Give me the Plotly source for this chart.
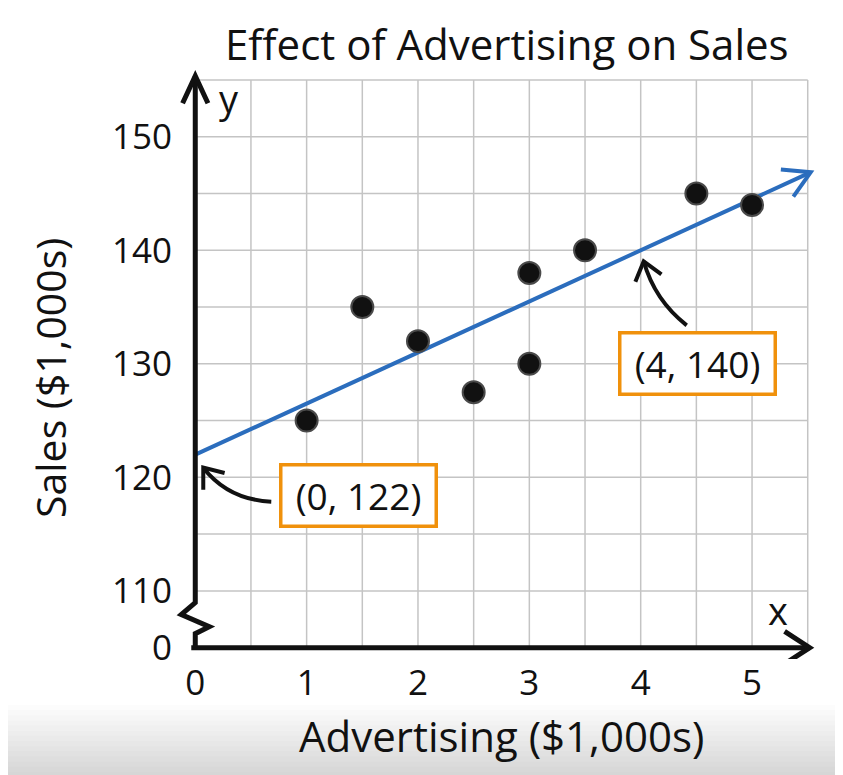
import math

import plotly.graph_objects as go

# ---- data ----
ad_spend = [1, 1.5, 2, 2.5, 3, 3, 3.5, 4.5, 5]
sales = [125, 135, 132, 127.5, 138, 130, 140, 145, 144]

fit_x = [0, 5.5]
fit_y = [122, 146.75]

callout_x = [0, 4]
callout_y = [122, 140]

x_ticks = [0, 1, 2, 3, 4, 5]
y_ticks = [105, 110, 120, 130, 140, 150]
y_ticktext = ["0", "110", "120", "130", "140", "150"]

grid_x = [0.5 * i for i in range(1, 12)]      # 0.5 .. 5.5
grid_y = [110 + 5 * i for i in range(10)]      # 110 .. 155

# ---- layout geometry (positions below are in window pixels) ----
# the page body has an 8px margin, so the figure sits 8px right/down in the window
W, H = 843, 775
BODY = 8
FIG_W, FIG_H = W - BODY, H - BODY
M = dict(l=173 - BODY, r=FIG_W - (830 - BODY), t=63 - BODY, b=FIG_H - (659 - BODY))
X_RANGE = [-0.2, 5.7]
Y_RANGE = [104, 156.5]
PLOT_W = FIG_W - M["l"] - M["r"]
PLOT_H = FIG_H - M["t"] - M["b"]
PXX = PLOT_W / (X_RANGE[1] - X_RANGE[0])
PXY = PLOT_H / (Y_RANGE[1] - Y_RANGE[0])

FONT = "Open Sans"
INK = "#111111"
BLUE = "#2b6dbd"
ORANGE = "#f0910c"
GRID = "#c4c4c4"


def off(x, y, dx=0, dy=0):
    # shift a data point by screen pixels (dy positive = down)
    return x + dx / PXX, y - dy / PXY


def path(points):
    return "M " + " L ".join(f"{x:.4f},{y:.4f}" for x, y in points)


def vhead(tip, angle, length, spread):
    # open "V" arrow head; angle = direction of travel in screen degrees (up positive)
    arms = []
    for s in (spread, -spread):
        a = math.radians(angle + 180 + s)
        arms.append((tip[0] + length * math.cos(a) / PXX, tip[1] + length * math.sin(a) / PXY))
    return path([arms[0], tip, arms[1]])


def paper_x(px):
    return (px - BODY - M["l"]) / PLOT_W


def paper_y(py):
    return (FIG_H - M["b"] - (py - BODY)) / PLOT_H


shapes = []

# faint grey band at the bottom of the screenshot
n_strips = 14
for i in range(n_strips):
    y0 = 705 + i * (72 / n_strips)
    y1 = y0 + 72 / n_strips + 1
    g = int(252 - (i / (n_strips - 1)) * 38)
    shapes.append(dict(type="rect", xref="paper", yref="paper", x0=-0.3, x1=1.1,
                       y0=paper_y(y1), y1=paper_y(y0), line=dict(width=0),
                       fillcolor=f"rgb({g},{g},{g})", layer="below"))

# grid
for gx in grid_x:
    shapes.append(dict(type="line", x0=gx, x1=gx, y0=105, y1=155, line=dict(color=GRID, width=1.5), layer="below"))
for gy in grid_y:
    shapes.append(dict(type="line", x0=0, x1=5.5, y0=gy, y1=gy, line=dict(color=GRID, width=1.5), layer="below"))

# x axis with arrow
x_tip = off(5.5, 105, 2, 0)
shapes.append(dict(type="path", path=path([off(0, 105, -4, 0), x_tip]), line=dict(color=INK, width=5)))
shapes.append(dict(type="path", path=vhead(x_tip, 0, 30, 33), line=dict(color=INK, width=5)))

# y axis with break zigzag and arrow
zig = [off(0, 105, 0, 0), off(0, 105, 0, -14), off(0, 105, 14, -21), off(0, 105, -14, -33), off(0, 105, 0, -45)]
y_tip = off(0, 155, 0, -4)
shapes.append(dict(type="path", path=path(zig + [y_tip]), line=dict(color=INK, width=5)))
shapes.append(dict(type="path", path=vhead(y_tip, 90, 30, 25), line=dict(color=INK, width=5)))

# arrow head on the fitted line
fit_angle = math.degrees(math.atan2((fit_y[1] - fit_y[0]) * PXY, (fit_x[1] - fit_x[0]) * PXX))
fit_tip = off(fit_x[1], fit_y[1], 3, -1.5)
shapes.append(dict(type="path", path=vhead(fit_tip, fit_angle, 30, 30), line=dict(color=BLUE, width=4)))

# curved callout arrows: (tip, control, tail) offsets in px from the callout point, box shift
callout_style = [
    dict(tip=(8, 13), ctrl=(33, 45), tail=(76, 47), box=(163, -41)),
    dict(tip=(3, 11), ctrl=(14, 50), tail=(46, 75), box=(57, -113)),
]

annotations = []
for cx, cy, st in zip(callout_x, callout_y, callout_style):
    tip = off(cx, cy, *st["tip"])
    ctrl = off(cx, cy, *st["ctrl"])
    tail = off(cx, cy, *st["tail"])
    shapes.append(dict(type="path",
                       path=f"M {tail[0]:.4f},{tail[1]:.4f} Q {ctrl[0]:.4f},{ctrl[1]:.4f} {tip[0]:.4f},{tip[1]:.4f}",
                       line=dict(color=INK, width=4)))
    ang = math.degrees(math.atan2(st["ctrl"][1] - st["tip"][1], st["tip"][0] - st["ctrl"][0]))
    shapes.append(dict(type="path", path=vhead(tip, ang, 22, 38), line=dict(color=INK, width=4)))
    annotations.append(dict(x=cx, y=cy, xshift=st["box"][0], yshift=st["box"][1],
                            xanchor="center", yanchor="middle",
                            text=f"({cx:g}, {cy:g})", showarrow=False,
                            font=dict(family=FONT, size=37, color=INK),
                            bgcolor="white", bordercolor=ORANGE, borderwidth=3.5, borderpad=4,
                            width=144, height=50))

# axis letters
annotations.append(dict(x=5.5, y=105, xshift=-30, yshift=38, text="x", showarrow=False,
                        xanchor="center", yanchor="middle",
                        font=dict(family=FONT, size=38, color=INK)))
annotations.append(dict(x=0, y=155, xshift=34, yshift=-18, text="y", showarrow=False,
                        xanchor="center", yanchor="middle",
                        font=dict(family=FONT, size=38, color=INK)))

# title and axis titles
annotations.append(dict(xref="paper", yref="paper", x=paper_x(507), y=paper_y(44),
                        xanchor="center", yanchor="middle",
                        text="Effect of Advertising on Sales", showarrow=False,
                        font=dict(family=FONT, size=42, color=INK)))
annotations.append(dict(xref="paper", yref="paper", x=paper_x(501), y=paper_y(735),
                        xanchor="center", yanchor="middle",
                        text="Advertising ($1,000s)", showarrow=False,
                        font=dict(family=FONT, size=42, color=INK)))
annotations.append(dict(xref="paper", yref="paper", x=paper_x(50), y=paper_y(378),
                        xanchor="center", yanchor="middle",
                        text="Sales ($1,000s)", showarrow=False, textangle=-90,
                        font=dict(family=FONT, size=41, color=INK)))

fig = go.Figure()
fig.add_trace(go.Scatter(x=fit_x, y=fit_y, mode="lines", line=dict(color=BLUE, width=4), hoverinfo="skip"))
fig.add_trace(go.Scatter(x=ad_spend, y=sales, mode="markers",
                         marker=dict(size=22, color=INK, line=dict(color="#4a4a4a", width=2))))

fig.update_layout(
    width=FIG_W, height=FIG_H,
    margin=M,
    showlegend=False,
    paper_bgcolor="white",
    plot_bgcolor="white",
    font=dict(family=FONT, color=INK),
    shapes=shapes,
    annotations=annotations,
)
fig.update_xaxes(range=X_RANGE, showgrid=False, zeroline=False, showline=False,
                 tickvals=x_ticks, ticks="", tickfont=dict(size=35, color=INK))
fig.update_yaxes(range=Y_RANGE, showgrid=False, zeroline=False, showline=False,
                 tickvals=y_ticks, ticktext=y_ticktext, ticks="", tickfont=dict(size=35, color=INK))

fig.write_html("out.html")
